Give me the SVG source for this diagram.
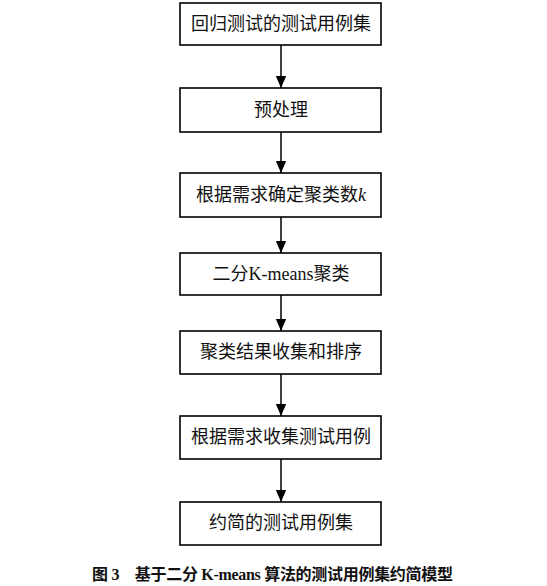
<svg xmlns="http://www.w3.org/2000/svg" width="547" height="586" viewBox="0 0 547 586">
<style>
.box rect{fill:#fff;stroke:#000;stroke-width:1.6}
.box text{font-family:"Liberation Serif","Noto Sans CJK SC",serif;font-size:18px;fill:#111;text-anchor:middle}
.conn line{stroke:#000;stroke-width:1.5}
.cap{font-family:"Liberation Serif","Noto Sans CJK SC",serif;font-size:16px;font-weight:bold;fill:#111}
</style>
<defs>
<marker id="ah" markerWidth="12" markerHeight="14" refX="14" refY="6" orient="auto" markerUnits="userSpaceOnUse" viewBox="0 0 14 12">
<path d="M0,0 L14,6 L0,12 Z" fill="#000"/>
</marker>
</defs>
<rect width="547" height="586" fill="#fff"/>
<g class="conn">
<line x1="281" y1="45" x2="281" y2="88" marker-end="url(#ah)"/>
<line x1="281" y1="132" x2="281" y2="173" marker-end="url(#ah)"/>
<line x1="281" y1="217" x2="281" y2="253" marker-end="url(#ah)"/>
<line x1="281" y1="295" x2="281" y2="331" marker-end="url(#ah)"/>
<line x1="281" y1="374" x2="281" y2="416" marker-end="url(#ah)"/>
<line x1="281" y1="459" x2="281" y2="502" marker-end="url(#ah)"/>
</g>
<g id="n1" class="box"><rect x="180" y="3" width="201" height="42"/><text x="281" y="30">回归测试的测试用例集</text></g>
<g id="n2" class="box"><rect x="180" y="88" width="201" height="44"/><text x="281" y="116">预处理</text></g>
<g id="n3" class="box"><rect x="180" y="173" width="201" height="44"/><text x="281" y="201">根据需求确定聚类数<tspan font-style="italic">k</tspan></text></g>
<g id="n4" class="box"><rect x="180" y="253" width="201" height="42"/><text x="281" y="280">二分K-means聚类</text></g>
<g id="n5" class="box"><rect x="180" y="331" width="201" height="43"/><text x="281" y="358">聚类结果收集和排序</text></g>
<g id="n6" class="box"><rect x="180" y="416" width="201" height="43"/><text x="281" y="443">根据需求收集测试用例</text></g>
<g id="n7" class="box"><rect x="180" y="502" width="201" height="43"/><text x="281" y="529">约简的测试用例集</text></g>
<text class="cap" x="92" y="580" textLength="361" lengthAdjust="spacing">图 3　基于二分 K-means 算法的测试用例集约简模型</text>
</svg>
